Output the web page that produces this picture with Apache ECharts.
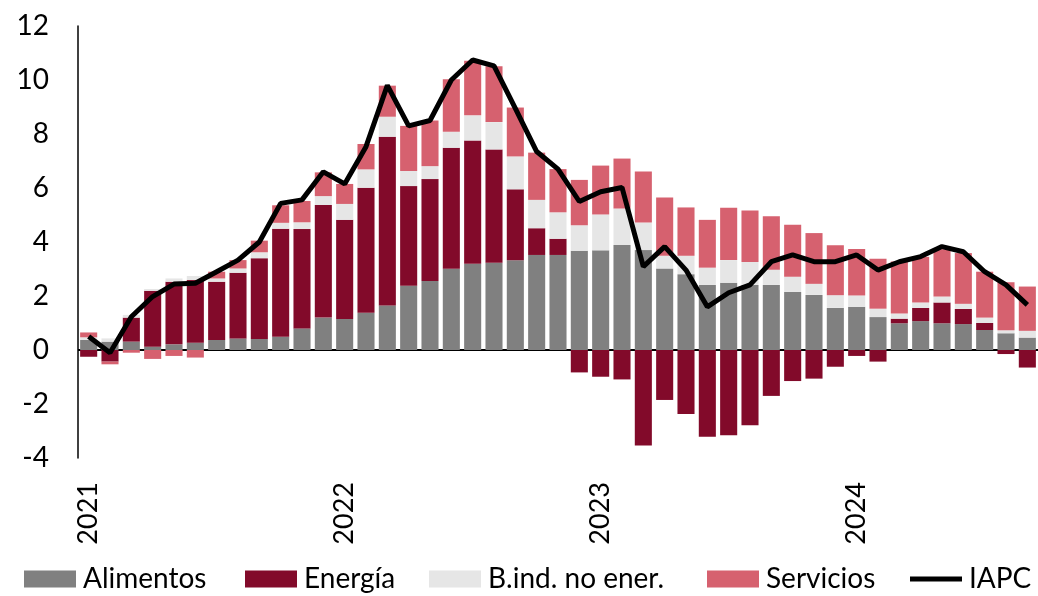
<!DOCTYPE html>
<html>
<head>
<meta charset="utf-8">
<script src="https://cdn.jsdelivr.net/npm/echarts@6/dist/echarts.min.js"></script>
<style>
  html, body { margin: 0; padding: 0; background: #fff; }
  #chart { width: 1038px; height: 596px; }
</style>
</head>
<body>
<div id="chart"></div>
<script>
// meses ene-2021 .. sep-2024
var months = [];
for (var y = 2021; y <= 2024; y++) {
  for (var m = 1; m <= 12; m++) {
    if (y === 2024 && m > 9) break;
    months.push(y + '-' + (m < 10 ? '0' + m : m));
  }
}

var alimentos = [0.37, 0.31, 0.31, 0.12, 0.21, 0.27, 0.37, 0.43, 0.41, 0.49, 0.80, 1.20,
  1.15, 1.38, 1.65, 2.38, 2.56, 3.01, 3.19, 3.23, 3.32, 3.52, 3.52, 3.68,
  3.69, 3.89, 3.70, 3.02, 2.81, 2.41, 2.49, 2.41, 2.41, 2.15, 2.04, 1.56,
  1.60, 1.22, 0.99, 1.07, 0.99, 0.96, 0.74, 0.62, 0.46];

var energia = [-0.25, -0.43, 0.89, 2.07, 2.32, 2.32, 2.16, 2.43, 2.99, 4.00, 3.68, 4.17,
  3.67, 4.63, 6.25, 3.69, 3.77, 4.48, 4.57, 4.20, 2.63, 0.99, 0.60, -0.83,
  -0.99, -1.09, -3.54, -1.85, -2.37, -3.21, -3.16, -2.79, -1.70, -1.15, -1.06, -0.62,
  -0.22, -0.43, 0.17, 0.49, 0.77, 0.56, 0.26, -0.15, -0.65];

var bindNoEner = [0.10, 0.12, 0.10, 0.07, 0.12, 0.15, 0.12, 0.16, 0.22, 0.22, 0.25, 0.33,
  0.59, 0.68, 0.74, 0.56, 0.48, 0.59, 0.93, 1.01, 1.22, 1.05, 0.98, 0.94,
  1.33, 1.35, 1.02, 0.47, 0.68, 0.64, 0.84, 0.85, 0.56, 0.56, 0.41, 0.47,
  0.42, 0.31, 0.19, 0.20, 0.22, 0.19, 0.20, 0.11, 0.25];

var servicios = [0.18, -0.10, -0.10, -0.33, -0.22, -0.28, 0.25, 0.31, 0.43, 0.65, 0.79, 0.88,
  0.74, 0.94, 1.15, 1.67, 1.69, 1.95, 2.02, 2.07, 1.81, 1.75, 1.60, 1.68,
  1.81, 1.85, 1.89, 2.16, 1.79, 1.77, 1.94, 1.91, 1.98, 1.93, 1.88, 1.85,
  1.72, 1.85, 1.93, 1.69, 1.75, 1.88, 1.70, 1.78, 1.64];

var iapc = [0.5, -0.1, 1.23, 1.98, 2.44, 2.47, 2.9, 3.33, 4.0, 5.43, 5.56, 6.6,
  6.15, 7.53, 9.8, 8.3, 8.5, 10.0, 10.74, 10.52, 8.95, 7.35, 6.7, 5.5,
  5.86, 6.02, 3.09, 3.83, 2.96, 1.6, 2.12, 2.41, 3.27, 3.52, 3.27, 3.27,
  3.52, 2.96, 3.27, 3.46, 3.83, 3.64, 2.9, 2.41, 1.67];

var legendNames = ['Alimentos', 'Energía', 'B.ind. no ener.', 'Servicios', 'IAPC'];
var colors = ['#808080', '#820a2a', '#e6e6e6', '#d6616f', '#000000'];
// posicion x de cada entrada de la leyenda
var legendLeft = [24, 245, 429, 707, 910];

var chart = echarts.init(document.getElementById('chart'));

function barSeries (name, data, color) {
  return {
    name: name,
    type: 'bar',
    stack: 'contrib',
    barWidth: '80%',
    itemStyle: { color: color },
    data: data
  };
}

var series = [
  barSeries(legendNames[0], alimentos, colors[0]),
  barSeries(legendNames[1], energia, colors[1]),
  barSeries(legendNames[2], bindNoEner, colors[2]),
  barSeries(legendNames[3], servicios, colors[3]),
  {
    name: legendNames[4],
    type: 'line',
    symbol: 'none',
    z: 5,
    lineStyle: { color: '#000', width: 5 },
    itemStyle: { color: '#000' },
    data: iapc,
    markLine: {
      silent: true,
      symbol: 'none',
      label: { show: false },
      lineStyle: { color: '#000', width: 2, type: 'solid' },
      data: [{ yAxis: 0 }],
      z: 1
    }
  }
];

var legends = legendNames.map(function (name, i) {
  var item = { name: name, icon: 'rect' };
  if (name === 'IAPC') {
    item.icon = 'path://M0,0L52,0L52,5L0,5Z';
  }
  return {
    left: legendLeft[i],
    top: 565,
    padding: 0,
    itemWidth: 52,
    itemHeight: 17,
    symbolKeepAspect: true,
    textStyle: { fontSize: 28, color: '#000', fontFamily: 'Lato', padding: [0, 0, 0, 2] },
    data: [item]
  };
});

var option = {
  animation: false,
  backgroundColor: '#fff',
  textStyle: { fontFamily: 'Lato', color: '#000' },
  grid: { left: 78, top: 26, width: 962, height: 432 },
  legend: legends,
  xAxis: {
    type: 'category',
    data: months,
    axisLine: { show: false },
    axisTick: { show: false },
    axisLabel: {
      rotate: 90,
      fontSize: 27,
      color: '#000',
      margin: 24,
      interval: function (i) { return i % 12 === 0; },
      formatter: function (v) { return v.slice(0, 4); }
    }
  },
  yAxis: {
    type: 'value',
    min: -4,
    max: 12,
    interval: 2,
    axisLine: { show: true, lineStyle: { color: '#000', width: 1.5 } },
    axisTick: { show: false },
    splitLine: { show: false },
    axisLabel: { fontSize: 28, color: '#000', margin: 29 }
  },
  series: series
};

chart.setOption(option);
</script>
</body>
</html>
